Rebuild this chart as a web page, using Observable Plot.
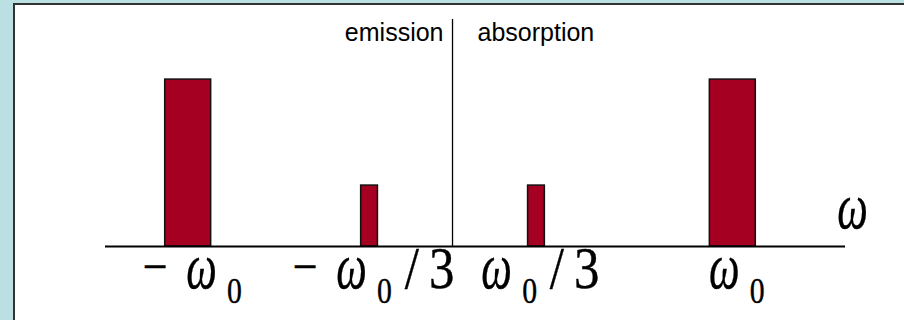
<!DOCTYPE html>
<html>
<head>
<meta charset="utf-8">
<script src="https://cdn.jsdelivr.net/npm/d3@7"></script>
<script src="https://cdn.jsdelivr.net/npm/@observablehq/plot@0.6"></script>
<style>
  html, body { margin: 0; padding: 0; width: 904px; height: 320px; overflow: hidden; background: #bae0e3; }
  #panel { position: absolute; left: 13px; top: 3px; width: 1000px; height: 400px; background: #fff; border: 2px solid #333; box-sizing: border-box; }
  #chart { position: absolute; left: 0; top: 0; }
</style>
</head>
<body>
<div id="panel"></div>
<div id="chart"></div>
<script>
// Spectral lines: frequency (in units of ω0) and relative amplitude
const freqs = [-0.943, -0.296, 0.2995, 1];
const amplitudes = [1, 0.365, 0.365, 1];
const tickLabels = ["−ω0", "−ω0/3", "ω0/3", "ω0"];
const sideLabels = ["emission", "absorption"];
const axisLabel = "ω";

const lines = freqs.map((f, i) => ({f, a: amplitudes[i], label: tickLabels[i]}));
const halfWidth = 0.082; // bar half-width per unit amplitude, in ω0 units

const serif = "'Liberation Serif', 'Times New Roman', serif";
const sans = "'Liberation Sans', Arial, sans-serif";

const plot = Plot.plot({
  width: 904,
  height: 320,
  marginLeft: 105,
  marginRight: 59,
  marginTop: 19,
  marginBottom: 74,
  style: {background: "transparent", overflow: "visible"},
  x: {domain: [-1.238, 1.402], axis: null},
  y: {domain: [0, 1.36], axis: null},
  marks: [
    Plot.ruleX([0], {stroke: "#000", strokeWidth: 1.3}),
    Plot.rectY(lines, {
      x1: d => d.f - d.a * halfWidth,
      x2: d => d.f + d.a * halfWidth,
      y1: 0,
      y2: "a",
      fill: "#a50021",
      stroke: "#111",
      strokeWidth: 1.5
    }),
    Plot.ruleY([0], {stroke: "#000", strokeWidth: 2}),
    Plot.text(lines, {
      x: "f", y: 0, text: "label", dx: 4, dy: 41, lineAnchor: "bottom",
      fontFamily: serif, fontSize: 60, fill: "#000"
    }),
    Plot.text([sideLabels[0]], {
      x: 0, frameAnchor: "top", text: d => d, dx: -9, dy: 21, lineAnchor: "bottom",
      textAnchor: "end", fontFamily: sans, fontSize: 25, fill: "#000"
    }),
    Plot.text([sideLabels[1]], {
      x: 0, frameAnchor: "top", text: d => d, dx: 25, dy: 21, lineAnchor: "bottom",
      textAnchor: "start", fontFamily: sans, fontSize: 25, fill: "#000"
    }),
    Plot.text([axisLabel], {
      frameAnchor: "bottom-right", text: d => d, dx: 7, dy: -19, lineAnchor: "bottom",
      textAnchor: "middle", fontFamily: serif, fontSize: 66, fontStyle: "italic", fill: "#000"
    })
  ]
});

document.getElementById("chart").appendChild(plot);

// Typeset the math labels: minus, narrow italic ω, lowered subscript 0
const mainSize = 60, minusSize = 52, minusLift = 4, omegaSize = 66, omegaLength = 36;
const subSize = 35, subShift = 15, squeeze = 0.85;
function omega(ts) {
  ts.attr("font-size", omegaSize).attr("font-style", "italic")
    .attr("textLength", omegaLength).attr("lengthAdjust", "spacingAndGlyphs");
}
d3.select(plot).selectAll("text").each(function () {
  const t = this.textContent;
  const sel = d3.select(this);
  if (t === axisLabel) {
    sel.text(null);
    omega(sel.append("tspan").text(t));
    sel.attr("transform", sel.attr("transform") + ` scale(${squeeze},1)`)
      .attr("stroke", "#000").attr("stroke-width", 0.4);
    return;
  }
  if (!tickLabels.includes(t)) return;
  sel.attr("transform", sel.attr("transform") + ` scale(${squeeze},1)`)
    .attr("stroke", "#000").attr("stroke-width", 0.4);
  sel.text(null);
  let prev = null;
  for (const ch of t) {
    const ts = sel.append("tspan").text(ch).attr("font-size", mainSize).attr("font-style", "normal");
    if (ch === "−") {
      ts.attr("font-size", minusSize).attr("dy", -minusLift);
    } else if (ch === "ω") {
      omega(ts);
      if (prev === "−") ts.attr("dx", 22).attr("dy", minusLift);
    } else if (ch === "0") {
      ts.attr("font-size", subSize).attr("dy", subShift).attr("dx", 12);
    } else if (ch === "/") {
      ts.attr("dy", -subShift).attr("dx", 15);
    } else if (ch === "3") {
      ts.attr("dx", 12);
    }
    prev = ch;
  }
});
</script>
</body>
</html>
